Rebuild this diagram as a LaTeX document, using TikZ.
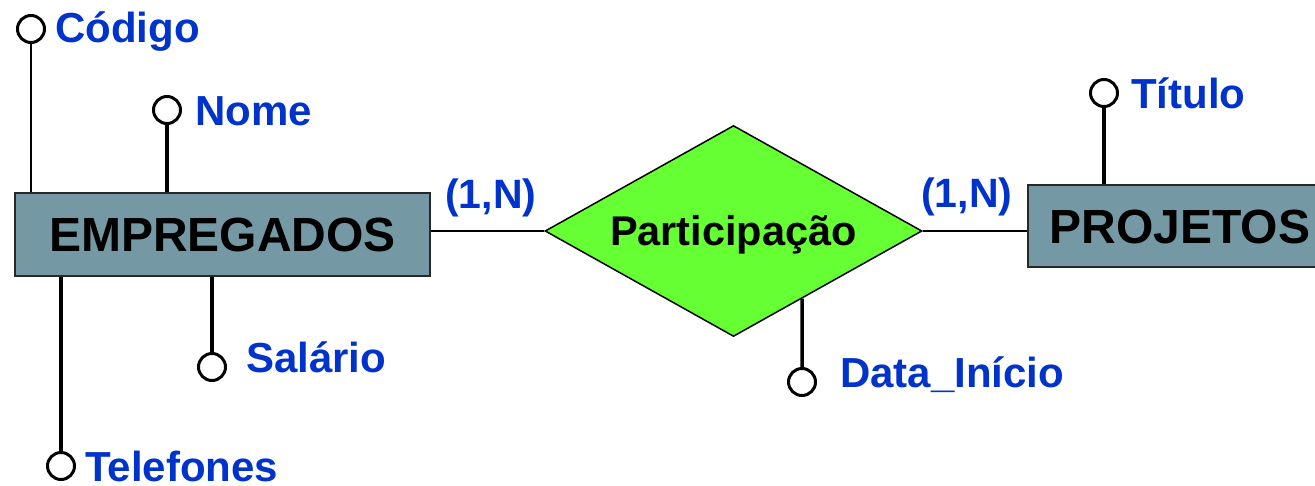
\documentclass[tikz,border=0pt]{standalone}
\usepackage{fontspec}
\setmainfont{Liberation Sans}
\usetikzlibrary{shapes.geometric,calc}
\definecolor{attrblue}{RGB}{0,51,204}
\definecolor{entfill}{RGB}{117,153,164}
\definecolor{relfill}{RGB}{102,255,51}
\definecolor{entline}{RGB}{40,40,40}
\begin{document}
\begin{tikzpicture}[x=1pt,y=-1pt,
  attrcirc/.style={circle,draw=black,fill=white,line width=3pt,minimum size=27pt,inner sep=0pt},
  attrlabel/.style={anchor=base west,inner sep=0pt,text=attrblue,font=\fontsize{42}{44}\selectfont\bfseries},
  cardlabel/.style={anchor=base west,inner sep=0pt,text=attrblue,font=\fontsize{41}{44}\selectfont\bfseries},
  entity/.style={rectangle,draw=entline,fill=entfill,line width=2pt,inner sep=0pt,
    text height=34pt,text depth=0pt,font=\fontsize{48}{50}\selectfont\bfseries},
  relation/.style={diamond,aspect=1.787,draw=black,fill=relfill,line width=1.5pt,inner sep=0pt,
    minimum width=377pt,minimum height=211pt,text height=29pt,text depth=0pt,
    font=\fontsize{41.5}{44}\selectfont\bfseries},
  thinlink/.style={line width=2pt},
  thicklink/.style={line width=3.5pt}]
\useasboundingbox (0,0) rectangle (1315,485);
\clip (0,0) rectangle (1315,485);
% entities and relationship
\node[entity,minimum width=415pt,minimum height=83pt] (emp) at (222.5,234.5) {EMPREGADOS};
\node[entity,minimum width=320pt,minimum height=82pt] (proj) at (1188,226) {\hspace*{-8pt}PROJETOS\hspace*{8pt}};
\node[relation] (rel) at (733.5,231) {Participação};
% attribute circles
\node[attrcirc] (cod) at (31,29) {};
\node[attrcirc] (nome) at (167,110) {};
\node[attrcirc] (sal) at (212,367) {};
\node[attrcirc] (tel) at (61,466) {};
\node[attrcirc] (tit) at (1104,93) {};
\node[attrcirc] (data) at (802,382) {};
% attribute labels
\node[attrlabel] (codL) at (55,42) {Código};
\node[attrlabel] (nomeL) at (195,125) {Nome};
\node[attrlabel] (salL) at (246,372) {Salário};
\node[attrlabel] (telL) at (85,481) {Telefones};
\node[attrlabel] (titL) at (1131,108) {Título};
\node[attrlabel] (dataL) at (840,387) {Data\_Início};
% cardinalities
\node[cardlabel] (c1) at (445,208) {(1,N)};
\node[cardlabel] (c2) at (921,207) {(1,N)};
% connectors
\draw[thinlink] (cod.south) -- (cod.south |- emp.north);
\draw[thicklink] (nome.south) -- (nome.south |- emp.north);
\draw[thicklink] (sal.north) -- (sal.north |- emp.south);
\draw[thicklink] (tel.north) -- (tel.north |- emp.south);
\draw[thicklink] (tit.south) -- (tit.south |- proj.north);
\draw[thicklink] (data.north) -- ($(rel.south)!0.363!(rel.east)$);
\draw[thinlink] (rel.west -| emp.east) -- (rel.west);
\draw[thinlink] (rel.east) -- (rel.east -| proj.west);
\end{tikzpicture}
\end{document}
